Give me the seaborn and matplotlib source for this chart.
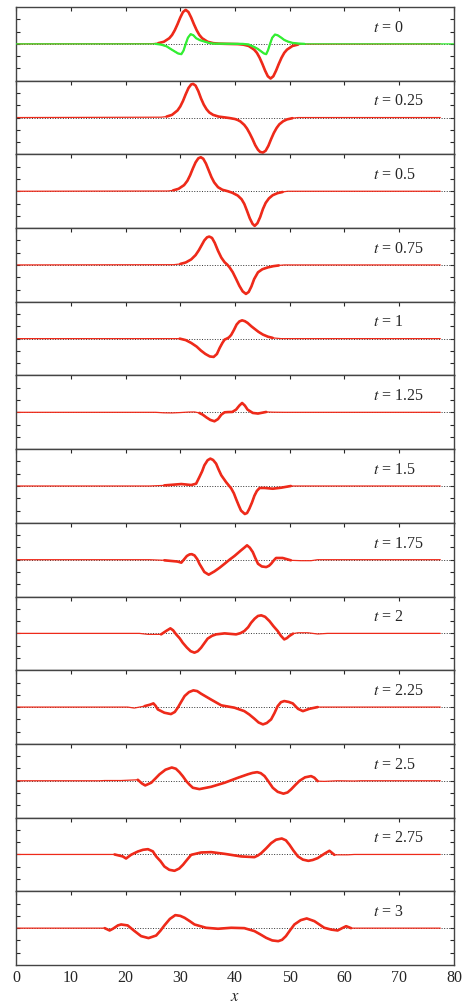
import matplotlib
matplotlib.use('Agg')
import matplotlib.pyplot as plt
import seaborn as sns

# panel labels (time values)
times = ['0', '0.25', '0.5', '0.75', '1', '1.25', '1.5', '1.75', '2', '2.25', '2.5', '2.75', '3']

# red curves, one per panel
x_t0 = [0, 25, 26, 27, 28, 28.5, 29, 29.5, 30, 30.5, 31, 31.5, 32, 32.5, 33, 33.5, 34, 35, 36, 37, 38.5,
        40.5, 41.5, 42.5, 43.5, 44, 44.5, 45, 45.5, 46, 46.5, 47, 47.5, 48, 48.5, 49, 49.5, 50.5, 51.5, 52.5, 77.5]
u_t0 = [0, 0.02, 0.06, 0.17, 0.46, 0.72, 1.11, 1.60, 2.14, 2.59, 2.77, 2.59, 2.14, 1.60, 1.11, 0.72, 0.46, 0.17, 0.06, 0.02, 0,
        -0.02, -0.06, -0.17, -0.47, -0.73, -1.13, -1.63, -2.18, -2.64, -2.82, -2.64, -2.18, -1.63, -1.13, -0.73, -0.47, -0.17, -0.06, -0.02, 0]

x_t025 = [0, 26.5, 27.5, 28.5, 29.5, 30, 30.5, 31, 31.5, 32, 32.35, 32.8, 33.3, 33.8, 34.3, 34.8, 35.3, 36, 37, 38,
          39, 40, 40.5, 41, 41.7, 42.2, 42.7, 43.2, 43.7, 44.2, 44.6, 45.1, 45.6, 46.1, 46.6, 47.1, 47.6, 48.1, 48.8, 49.5,
          50.5, 51.5, 77.5]
u_t025 = [0, 0.03, 0.08, 0.22, 0.58, 0.9, 1.35, 1.9, 2.4, 2.7, 2.74, 2.6, 2.15, 1.55, 1.05, 0.68, 0.42, 0.22, 0.08, 0.02,
          -0.04, -0.12, -0.2, -0.32, -0.6, -0.9, -1.3, -1.75, -2.25, -2.62, -2.8, -2.85, -2.7, -2.3, -1.75, -1.25, -0.85, -0.55, -0.3, -0.15,
          -0.05, 0, 0]

x_t05 = [0, 27.7, 28.7, 29.7, 30.7, 31.3, 31.8, 32.3, 32.8, 33.3, 33.75, 34.2, 34.7, 35.2, 35.7, 36.2, 36.9, 37.7, 38.7, 39.5,
         40.5, 41.2, 41.7, 42.2, 42.7, 43.2, 43.6, 44.1, 44.6, 45.1, 45.6, 46.2, 46.9, 47.8, 48.7, 49.6, 77.5]
u_t05 = [0, 0.02, 0.07, 0.2, 0.5, 0.85, 1.3, 1.85, 2.35, 2.68, 2.77, 2.65, 2.25, 1.7, 1.15, 0.72, 0.33, 0.12, 0, -0.12,
         -0.35, -0.65, -1.03, -1.6, -2.2, -2.65, -2.82, -2.6, -2.1, -1.45, -0.95, -0.58, -0.32, -0.15, -0.06, 0, 0]

x_t075 = [0, 28.8, 30, 31, 32, 32.8, 33.4, 33.9, 34.4, 34.9, 35.3, 35.8, 36.3, 36.9, 37.5, 38.1, 38.6, 39, 39.6, 40.2,
          40.8, 41.4, 42, 42.5, 43, 43.5, 44.2, 45, 46, 47, 48, 49, 77.5]
u_t075 = [0, 0.02, 0.08, 0.2, 0.45, 0.8, 1.2, 1.6, 2.0, 2.25, 2.31, 2.2, 1.8, 1.15, 0.6, 0.22, 0.02, -0.19, -0.6, -1.14,
          -1.7, -2.15, -2.36, -2.2, -1.75, -1.15, -0.6, -0.35, -0.2, -0.1, -0.04, 0, 0]

x_t1 = [0, 29.9, 31, 32, 33, 33.8, 34.6, 35.4, 36.1, 36.7, 37.2, 37.7, 38.1, 38.5, 38.9, 39.3, 39.8, 40.3, 40.8, 41.3,
        41.8, 42.3, 43, 43.6, 44.3, 45.1, 46, 46.9, 48.4, 77.5]
u_t1 = [0, 0, -0.12, -0.35, -0.65, -0.98, -1.25, -1.45, -1.49, -1.25, -0.76, -0.35, -0.08, 0, 0.1, 0.3, 0.7, 1.15, 1.4, 1.49,
        1.42, 1.28, 1.0, 0.79, 0.55, 0.33, 0.16, 0.06, 0, 0]

x_t125 = [0, 25.5, 27, 28.5, 30, 31.5, 32.6, 33.5, 34.1, 34.8, 35.5, 36.25, 36.9, 37.5, 38.1, 38.7, 39.5, 40.2, 40.8, 41.3,
          41.8, 42.3, 43.25, 44.2, 45.7, 47, 49, 77.5]
u_t125 = [0, 0, -0.04, -0.05, -0.02, 0.02, 0.03, -0.05, -0.19, -0.42, -0.62, -0.73, -0.55, -0.19, 0, 0.02, 0.03, 0.22, 0.55, 0.76,
          0.55, 0.22, -0.05, -0.1, 0.03, 0.01, 0, 0]

x_t15 = [0, 24.4, 27.1, 30.2, 32, 32.9, 33.5, 34, 34.4, 35, 35.5, 36, 36.55, 37, 37.5, 38.4, 39.3, 39.8, 40.2, 40.7,
         41.1, 41.8, 42.2, 42.6, 43.1, 43.55, 44, 44.5, 45.4, 46.9, 48.4, 50.2, 77.5]
u_t15 = [0, 0, 0.05, 0.16, 0.08, 0.19, 0.73, 1.2, 1.68, 2.1, 2.23, 2.12, 1.82, 1.35, 0.87, 0.3, -0.19, -0.6, -1.06, -1.6,
         -2.0, -2.28, -2.2, -1.87, -1.35, -0.79, -0.4, -0.16, -0.16, -0.22, -0.14, 0, 0]

x_t175 = [0, 24.4, 27.1, 29.5, 30.2, 30.8, 31.2, 31.7, 32.1, 32.6, 33.1, 33.5, 34, 34.4, 35.2, 36.25, 37.2, 38.1, 39, 39.9,
          41.1, 41.7, 42.2, 42.7, 43.25, 43.7, 44.2, 44.9, 45.7, 46.2, 46.6, 47.1, 47.5, 48.7, 50.2, 52, 53.9, 55.1, 77.5]
u_t175 = [0, 0, -0.05, -0.15, -0.24, 0.08, 0.3, 0.43, 0.45, 0.35, 0.05, -0.33, -0.7, -1.0, -1.22, -0.95, -0.65, -0.33, 0, 0.3,
          0.76, 0.98, 1.17, 0.98, 0.62, 0.15, -0.33, -0.55, -0.6, -0.5, -0.33, -0.05, 0.14, 0.14, -0.05, -0.08, -0.08, 0, 0]

x_t2 = [0, 22.55, 24.1, 26.5, 27.4, 28.2, 28.7, 29.25, 29.9, 30.45, 31.2, 31.9, 32.6, 33.2, 33.8, 34.4, 35, 35.8, 36.55, 38.1,
        40.2, 41, 41.7, 42.4, 42.95, 43.6, 44.2, 44.8, 45.5, 46.3, 47, 47.8, 48.4, 49, 49.5, 49.9, 50.6, 51.5, 53.3, 55.1,
        56.9, 77.5]
u_t2 = [0, 0, -0.08, -0.08, 0.19, 0.41, 0.25, -0.08, -0.4, -0.76, -1.15, -1.45, -1.57, -1.45, -1.17, -0.8, -0.43, -0.2, -0.08, 0,
        -0.08, 0.02, 0.19, 0.5, 0.87, 1.2, 1.42, 1.47, 1.35, 1.0, 0.6, 0.19, -0.2, -0.49, -0.38, -0.22, -0.02, 0.05, 0.05, -0.05,
        0, 0]

x_t225 = [0, 20.4, 21.6, 23.5, 24.5, 25.1, 25.5, 25.9, 27.1, 28.3, 29, 29.55, 30.2, 30.8, 31.6, 32.4, 33.1, 33.8, 35.6, 37.5,
          39.9, 41.7, 42.6, 43.55, 44.3, 45.1, 45.8, 46.6, 47.2, 47.8, 48.4, 49, 49.8, 50.55, 51.5, 52.4, 53.6, 55.1, 56.9, 77.5]
u_t225 = [0, 0, -0.08, 0.08, 0.2, 0.3, 0.1, -0.19, -0.46, -0.57, -0.4, -0.05, 0.45, 0.9, 1.22, 1.36, 1.3, 1.09, 0.62, 0.14,
          -0.05, -0.33, -0.6, -0.95, -1.25, -1.41, -1.3, -1.0, -0.5, 0.08, 0.4, 0.49, 0.42, 0.3, -0.14, -0.33, -0.14, 0, 0, 0]

x_t25 = [0, 15.25, 16.2, 19.2, 22.25, 23, 23.6, 24.7, 25.5, 26.2, 27.3, 28.45, 29.2, 29.85, 30.5, 31.1, 31.7, 32.3, 33.5, 35.65,
         38.1, 40.5, 42.3, 43.2, 44.05, 44.7, 45.4, 46.1, 46.9, 47.8, 48.85, 49.6, 50.25, 51, 51.8, 52.8, 53.9, 54.5, 55.1, 56.3,
         58.75, 61.8, 63, 77.5]
u_t25 = [0, 0, 0.02, 0.02, 0.08, -0.22, -0.38, -0.16, 0.2, 0.52, 0.9, 1.08, 0.98, 0.7, 0.35, -0.03, -0.32, -0.57, -0.68, -0.49,
         -0.16, 0.24, 0.52, 0.64, 0.7, 0.62, 0.38, -0.05, -0.57, -0.9, -1.05, -0.95, -0.7, -0.35, 0, 0.28, 0.38, 0.25, -0.03, -0.05,
         0, -0.02, 0, 0]

x_t275 = [0, 18, 19.5, 20.1, 21, 22.25, 23.2, 24.1, 25, 25.6, 26.4, 27.1, 28, 28.95, 29.8, 30.5, 31.3, 32, 33.8, 35.65,
          38.1, 41.1, 43.55, 44.2, 44.8, 45.7, 46.6, 47.5, 48.55, 49.3, 49.95, 50.7, 51.5, 52.4, 53.4, 54.2, 55.1, 56.3, 57.25, 58.15,
          60.6, 61.8, 77.5]
u_t275 = [0, 0, -0.16, -0.33, -0.03, 0.24, 0.38, 0.43, 0.25, -0.16, -0.55, -0.98, -1.25, -1.33, -1.15, -0.84, -0.4, -0.03, 0.16, 0.19,
          0.05, -0.16, -0.22, -0.08, 0.11, 0.5, 0.92, 1.2, 1.3, 1.15, 0.79, 0.3, -0.16, -0.42, -0.52, -0.45, -0.3, 0.05, 0.3, -0.03,
          -0.03, 0, 0]

x_t3 = [0, 10, 14.95, 16.2, 17.1, 17.7, 18.6, 19.2, 20.4, 21.6, 22.85, 24.2, 25.6, 26.4, 27.1, 28.1, 29.1, 30, 30.8, 31.7,
        32.6, 34.7, 36.9, 39.3, 41.7, 43.55, 44.6, 45.7, 46.8, 47.9, 48.6, 49.3, 50.1, 50.85, 52, 53.1, 54.5, 55.4, 56.3, 57.6,
        58.75, 59.7, 60.3, 61.2, 63, 77.5]
u_t3 = [0, 0, 0, 0, -0.19, -0.05, 0.22, 0.3, 0.22, -0.22, -0.65, -0.81, -0.6, -0.2, 0.22, 0.75, 1.06, 1.0, 0.84, 0.58,
        0.3, 0.03, -0.05, 0.03, 0, -0.24, -0.5, -0.79, -1.0, -1.06, -0.95, -0.65, -0.15, 0.3, 0.65, 0.79, 0.57, 0.3, 0.03, -0.12,
        -0.19, 0.03, 0.16, 0, 0, 0]

# green curve, first panel only
x_green = [0, 25.5, 26.5, 27.5, 28.3, 29, 29.6, 30.2, 30.6, 31, 31.4, 31.9, 32.4, 32.9, 33.6, 34.4, 35.2, 36,
           41.4, 42.5, 43.5, 44.2, 44.8, 45.3, 45.7, 46.05, 46.4, 46.8, 47.3, 47.8, 48.4, 49, 49.65, 50.5, 51.5, 52.7, 80]
v_green = [0, 0, -0.06, -0.2, -0.43, -0.62, -0.78, -0.84, -0.55, 0, 0.5, 0.79, 0.7, 0.46, 0.3, 0.19, 0.08, 0.02,
           0, -0.05, -0.25, -0.42, -0.62, -0.78, -0.84, -0.5, 0, 0.5, 0.76, 0.7, 0.52, 0.32, 0.19, 0.08, 0.03, 0, 0]

xs = [x_t0, x_t025, x_t05, x_t075, x_t1, x_t125, x_t15, x_t175, x_t2, x_t225, x_t25, x_t275, x_t3]
us = [u_t0, u_t025, u_t05, u_t075, u_t1, u_t125, u_t15, u_t175, u_t2, u_t225, u_t25, u_t275, u_t3]


def active(u, tol=0.1):
    # index range where the wave is clearly off the axis
    idx = [k for k, v in enumerate(u) if abs(v) >= tol]
    return max(idx[0] - 1, 0), min(idx[-1] + 2, len(u))


sns.set_style('ticks')
plt.rcParams['font.family'] = ['Liberation Serif', 'DejaVu Serif']
plt.rcParams['mathtext.fontset'] = 'stix'

red = '#ee2a1a'
green = '#33ee33'

fig, axes = plt.subplots(13, 1, sharex=True, figsize=(4.64, 10.03), dpi=100)
fig.subplots_adjust(left=0.0345, right=0.9784, top=0.992, bottom=0.0369, hspace=0)

for i, ax in enumerate(axes):
    ax.axhline(0, color='#333333', ls=':', lw=0.7, zorder=1)
    # thin line everywhere, thicker where the wave is
    a, b = active(us[i])
    sns.lineplot(x=xs[i], y=us[i], ax=ax, color=red, lw=0.9, estimator=None, sort=False, zorder=2)
    sns.lineplot(x=xs[i][a:b], y=us[i][a:b], ax=ax, color=red, lw=1.9, estimator=None, sort=False,
                 zorder=3, solid_capstyle='round', solid_joinstyle='round')
    if i == 0:
        sns.lineplot(x=x_green, y=v_green, ax=ax, color=green, lw=0.9, estimator=None, sort=False, zorder=4)
        sns.lineplot(x=x_green[1:-1], y=v_green[1:-1], ax=ax, color=green, lw=1.6, estimator=None, sort=False,
                     zorder=5, solid_capstyle='round', solid_joinstyle='round')
    ax.set_xlim(0, 80)
    ax.set_ylim(-3, 3)
    ax.set_xticks(range(0, 81, 10))
    ax.set_yticks([-2, -1, 0, 1, 2])
    ax.tick_params(axis='x', direction='in', top=True, bottom=False, labelbottom=False, length=3, width=0.8)
    ax.tick_params(axis='y', direction='in', left=True, right=True, labelleft=False, length=3, width=0.8)
    ax.set_ylabel('')
    ax.set_xlabel('')
    for sp in ax.spines.values():
        sp.set_color('#444444')
        sp.set_linewidth(1.0)
    ax.text(65.2, 1.4, '$t$ = ' + times[i], fontsize=11.5, ha='left', va='center')

axes[-1].tick_params(axis='x', labelbottom=True, labelsize=11.5, pad=3)
axes[-1].set_xlabel('$x$', fontsize=12, labelpad=2)

fig.savefig('out.png', dpi=100)
